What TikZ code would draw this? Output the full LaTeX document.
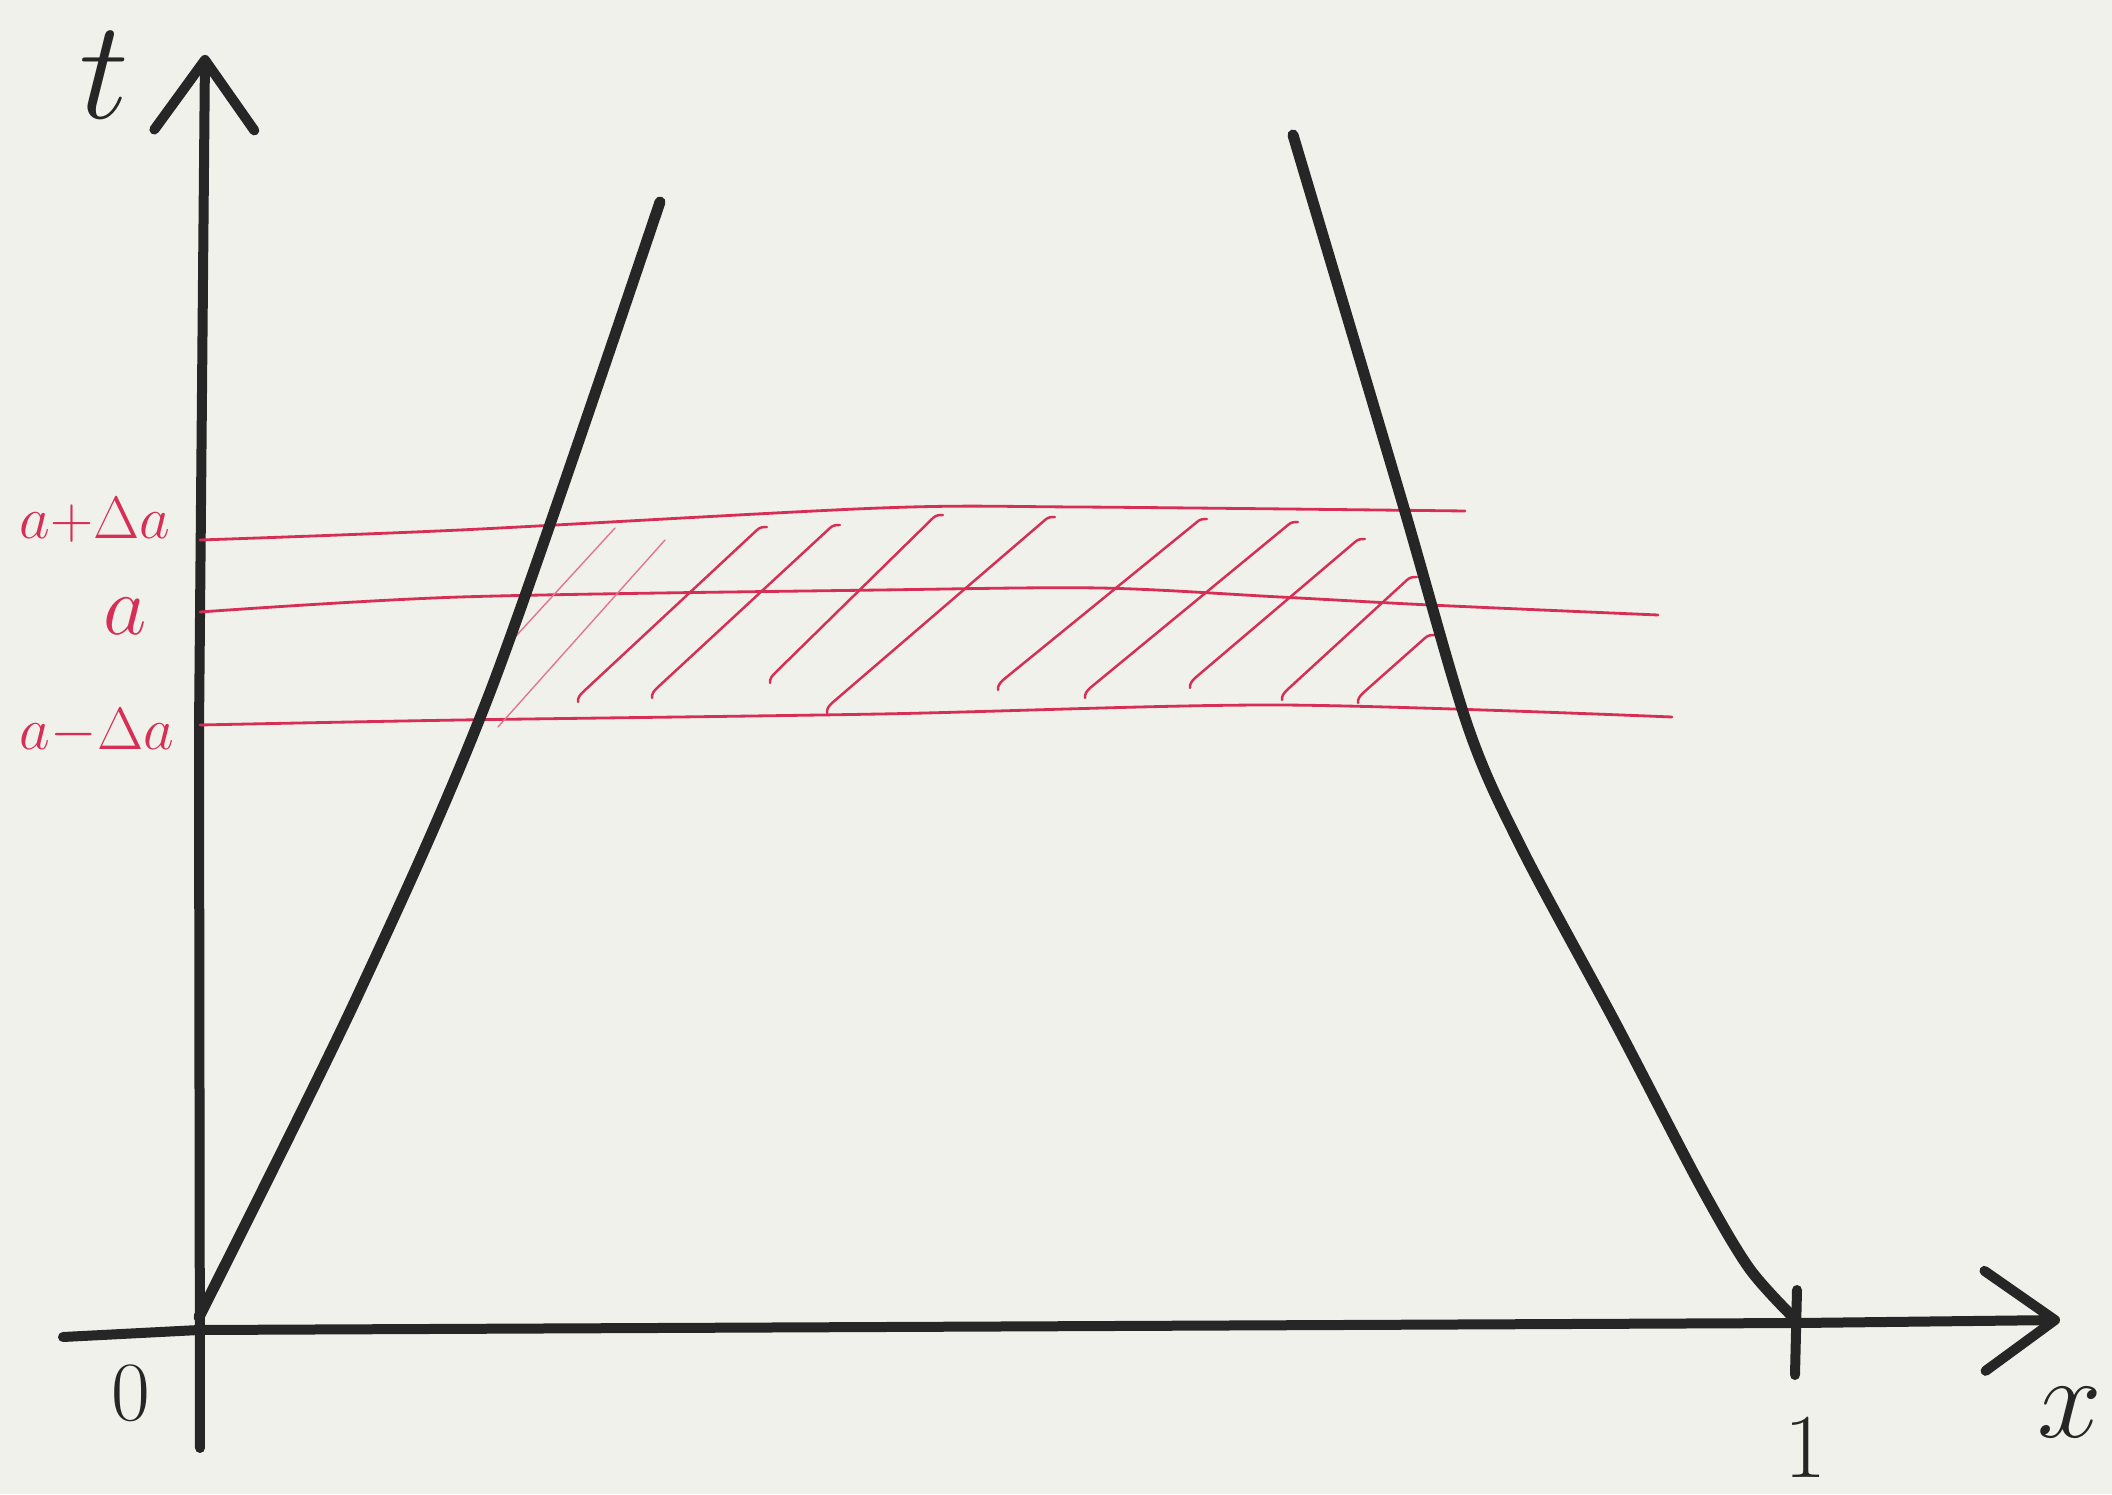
\RequirePackage{fix-cm}
\documentclass[tikz,border=0pt]{standalone}
\usetikzlibrary{arrows.meta}

\definecolor{paper}{RGB}{241,241,236}
\definecolor{ink}{RGB}{38,38,38}
\definecolor{pen}{RGB}{214,46,84}

\begin{document}
\begin{tikzpicture}[
      axis/.style={ink, line width=1mm, line cap=round},
      curve/.style={ink, line width=1.1mm, line cap=round, line join=round},
      level/.style={pen, line width=0.8pt, line cap=round},
      hatch/.style={pen, line width=0.7pt, line cap=round},
      faint/.style={pen!65, line width=0.4pt, line cap=round},
      blabel/.style={ink, inner sep=0pt},
      rlabel/.style={pen, inner sep=0pt, font=\fontsize{17}{20}\selectfont},
      barb/.style={-{Straight Barb[length=7mm, width=10mm, round]}},
    ]

    % -------------------------------------------------------
    %  sheet
    % -------------------------------------------------------
    \fill[paper] (-1.99,-1.64) rectangle (19.13,13.30);
    \useasboundingbox (-1.99,-1.64) rectangle (19.13,13.30);

    % -------------------------------------------------------
    %  axes
    % -------------------------------------------------------
    \draw[axis, barb] (0.01,-1.18) -- (0,6) -- (0.06,12.75);
    \draw[axis, barb] (-1.36,-0.07) -- (0,0) -- (16,0.07) -- (18.61,0.10);
    \draw[axis] (15.98,0.40) -- (15.96,-0.45);

    \node[blabel, font=\fontsize{40}{44}\selectfont] (tlab) at (-0.95,12.55) {$t$};
    \node[blabel, font=\fontsize{33}{36}\selectfont] (xlab) at (18.71,-0.83) {$x$};
    \node[blabel, font=\fontsize{24}{28}\selectfont] (zero) at (-0.68,-0.63) {0};
    \node[blabel, font=\fontsize{26}{30}\selectfont] (one) at (16.06,-1.17) {1};

    % -------------------------------------------------------
    %  levels a - da, a, a + da
    % -------------------------------------------------------
    \draw[level] plot[smooth] coordinates {(0.01,7.90) (2.61,8.00) (6.81,8.22) (8.79,8.23) (12.66,8.19)};
    \draw[level] plot[smooth] coordinates {(0.01,7.18) (2.61,7.33) (6.81,7.40) (9.01,7.42) (10.81,7.33) (12.31,7.25) (14.59,7.15)};
    \draw[level] plot[smooth] coordinates {(0.01,6.05) (2.61,6.10) (6.81,6.16) (10.81,6.25) (14.73,6.13)};

    \node[rlabel] (aplus) at (-1.04,8.10) {$a{+}\Delta a$};
    \node[rlabel, font=\fontsize{24}{28}\selectfont] (amid) at (-0.74,7.14) {$a$};
    \node[rlabel] (aminus) at (-1.02,5.98) {$a{-}\Delta a$};

    % hatching of the strip
    \draw[faint] (3.06,6.82) -- (4.16,8.02);
    \draw[faint] (2.99,6.03) -- (4.66,7.90);
    \foreach \bx/\by/\tx/\ty in {3.79/6.28/5.58/8.00, 4.53/6.32/6.31/8.02,
        5.71/6.47/7.34/8.12, 6.28/6.17/8.46/8.10, 7.99/6.40/9.98/8.08,
        8.86/6.32/10.89/8.05, 9.91/6.42/11.56/7.88, 10.83/6.30/12.08/7.50,
        11.59/6.27/12.26/6.92} {
      \draw[hatch] (\bx,\by) to[out=95,in=225] ++(0.05,0.1) -- (\tx,\ty)
        to[out=45,in=180] ++(0.1,0.03);
    }

    % -------------------------------------------------------
    %  the two curves
    % -------------------------------------------------------
    \draw[curve] plot[smooth] coordinates {(0,0.13) (1.58,3.33) (2.93,6.43) (4.61,11.28)};
    \draw[curve] plot[smooth] coordinates {(10.94,11.95) (12.02,8.32)
      (12.69,6.03) (13.23,4.81) (14.17,3.06) (15.01,1.45) (15.50,0.62)
      (15.95,0.12)};

  \end{tikzpicture}
\end{document}
